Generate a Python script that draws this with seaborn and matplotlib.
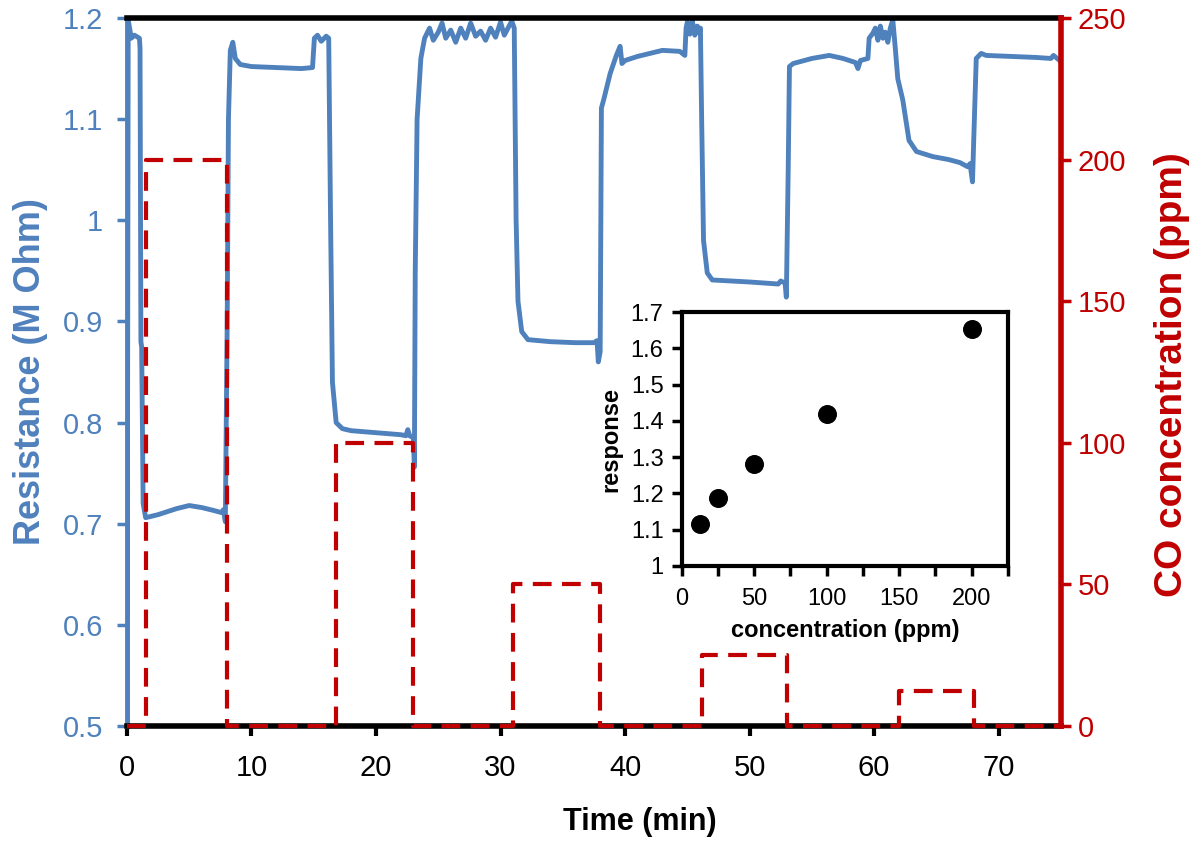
import matplotlib
matplotlib.use("Agg")
import matplotlib.pyplot as plt
import seaborn as sns
from matplotlib.ticker import MultipleLocator, FuncFormatter

# sensor resistance trace (time in min, resistance in M Ohm)
time_min = [0.0, 0.1, 0.35, 0.6, 1.0, 1.05, 1.12, 1.18, 1.3, 1.5,
            2.5, 4.0, 5.0, 6.0, 7.0, 7.6, 7.75, 7.9,
            8.05, 8.15, 8.3, 8.5, 8.7, 9.1, 10.0, 12.0, 14.0, 14.9,
            15.05, 15.3, 15.6, 16.0, 16.2,
            16.35, 16.5, 16.8, 17.3, 18.0, 20.0, 22.0, 22.4, 22.55, 22.7, 23.0, 23.08,
            23.15, 23.3, 23.6, 23.9,
            24.3, 24.6, 25.0, 25.3, 25.6, 26.0, 26.4, 26.8, 27.2, 27.6, 28.0, 28.4,
            28.8, 29.2, 29.6, 30.0, 30.3, 30.6, 30.9, 31.1,
            31.25, 31.4, 31.7, 32.2, 34.0, 36.0, 37.5, 37.75, 37.85,
            38.0, 38.1, 38.3, 38.8, 39.3, 39.6, 39.75, 40.0, 41.0, 42.0, 43.0, 44.4, 44.8,
            44.9, 45.0, 45.2, 45.4, 45.6, 45.8, 45.95, 46.05,
            46.15, 46.3, 46.6, 47.0, 50.0, 52.3, 52.5, 52.85, 52.95,
            53.1, 53.2, 53.5, 55.0, 56.4, 57.5, 58.5, 58.7, 58.9, 59.5,
            59.6, 59.9, 60.1, 60.3, 60.5, 60.7, 60.9, 61.1, 61.3, 61.5,
            61.7, 61.9, 62.3, 62.8, 63.4, 64.7, 66.0, 66.9, 67.5, 67.7, 67.9,
            68.0, 68.2, 68.6, 69.0, 71.0, 73.0, 74.2, 74.4, 75.0]
resistance = [0.45, 1.198, 1.18, 1.183, 1.18, 1.17, 0.88, 0.875, 0.72, 0.706,
              0.709, 0.715, 0.718, 0.716, 0.713, 0.711, 0.714, 0.702,
              0.9, 1.1, 1.168, 1.176, 1.16, 1.154, 1.152, 1.151, 1.150, 1.151,
              1.18, 1.183, 1.177, 1.182, 1.18,
              1.0, 0.84, 0.80, 0.794, 0.792, 0.790, 0.788, 0.787, 0.793, 0.787, 0.785, 0.756,
              0.95, 1.1, 1.16, 1.18,
              1.19, 1.178, 1.186, 1.195, 1.18, 1.188, 1.176, 1.19, 1.18, 1.195, 1.182, 1.187,
              1.178, 1.19, 1.181, 1.196, 1.183, 1.19, 1.197, 1.19,
              1.0, 0.92, 0.89, 0.882, 0.880, 0.879, 0.879, 0.881, 0.86,
              0.87, 1.111, 1.12, 1.145, 1.163, 1.172, 1.155, 1.158, 1.162, 1.165, 1.168, 1.167, 1.163,
              1.19, 1.196, 1.184, 1.197, 1.183, 1.192, 1.185, 1.19,
              1.1, 0.98, 0.948, 0.941, 0.939, 0.937, 0.940, 0.938, 0.924,
              1.05, 1.152, 1.155, 1.16, 1.163, 1.16, 1.156, 1.15, 1.158, 1.16,
              1.18, 1.185, 1.19, 1.178, 1.192, 1.18, 1.186, 1.176, 1.19, 1.198,
              1.17, 1.14, 1.119, 1.079, 1.068, 1.063, 1.06, 1.057, 1.053, 1.056, 1.038,
              1.08, 1.16, 1.165, 1.163, 1.162, 1.161, 1.16, 1.163, 1.157]

# CO pulses
co_on = [1.5, 16.8, 31.0, 46.2, 62.0]
co_off = [8.0, 23.0, 38.0, 53.0, 68.0]
co_ppm = [200, 100, 50, 25, 12.5]

# inset: response vs concentration
inset_conc = [12.5, 25, 50, 100, 200]
inset_resp = [1.115, 1.187, 1.281, 1.42, 1.652]

blue = "#4F81BD"
red = "#C00000"

sns.set_theme(style="ticks")
plt.rcParams['font.family'] = ['Liberation Sans', 'DejaVu Sans']
plt.rcParams['text.color'] = 'black'
plt.rcParams['axes.labelcolor'] = 'black'
plt.rcParams['xtick.color'] = 'black'
plt.rcParams['ytick.color'] = 'black'

fig = plt.figure(figsize=(12, 8.41), dpi=100)
ax1 = fig.add_axes([0.1058, 0.1367, 0.7783, 0.8419])
ax2 = ax1.twinx()

# resistance curve
sns.lineplot(x=time_min, y=resistance, ax=ax1, color=blue, linewidth=3.5,
             estimator=None, sort=False)
ax1.set_xlim(0, 75)
ax1.set_ylim(0.5, 1.2)
ax1.xaxis.set_major_locator(MultipleLocator(10))
ax1.yaxis.set_major_locator(MultipleLocator(0.1))
ax1.yaxis.set_major_formatter(FuncFormatter(lambda v, p: f"{v:g}"))
ax1.tick_params(axis='x', colors='black', length=7, width=3, labelsize=21, pad=13)
ax1.tick_params(axis='y', colors=blue, length=7, width=2.5, labelsize=21, pad=10)
ax1.set_xlabel("")
ax1.set_ylabel("")

# CO concentration steps
co_t = [0.0]
co_c = [0.0]
for on, off, lvl in zip(co_on, co_off, co_ppm):
    co_t += [on, on, off, off]
    co_c += [0, lvl, lvl, 0]
co_t.append(75.0)
co_c.append(0.0)
sns.lineplot(x=co_t, y=co_c, ax=ax2, color=red, linewidth=3,
             linestyle=(0, (4.5, 2.5)), estimator=None, sort=False,
             clip_on=False, zorder=5)
ax2.set_ylim(0, 250)
ax2.yaxis.set_major_locator(MultipleLocator(50))
ax2.tick_params(axis='y', colors=red, length=7, width=2.5, labelsize=21, pad=5)
ax2.set_ylabel("")

for s in ['top', 'bottom']:
    ax1.spines[s].set_color('black')
    ax1.spines[s].set_linewidth(4)
ax1.spines['left'].set_color(blue)
ax1.spines['left'].set_linewidth(3.5)
ax1.spines['right'].set_visible(False)
for s in ['top', 'bottom', 'left']:
    ax2.spines[s].set_visible(False)
ax2.spines['right'].set_color(red)
ax2.spines['right'].set_linewidth(4)

label_font = ['Liberation Sans', 'DejaVu Sans']
fig.text(640 / 1200, 1 - 822 / 841, "Time (min)", ha='center', va='center',
         fontsize=22, fontweight='bold', color='black', family=label_font)
fig.text(31 / 1200, 1 - 372 / 841, "Resistance (M Ohm)", ha='center', va='center',
         rotation=90, fontsize=26, fontweight='bold', color=blue, family=label_font)
fig.text(1172 / 1200, 1 - 375 / 841, "CO concentration (ppm)", ha='center', va='center',
         rotation=90, fontsize=28, fontweight='bold', color=red, family=label_font)

# inset
ins = fig.add_axes([0.568, 0.327, 0.272, 0.302])
ins.set_facecolor('white')
sns.scatterplot(x=inset_conc, y=inset_resp, ax=ins, color='black', s=160,
                edgecolor='black', zorder=3)
ins.set_xlim(0, 225)
ins.set_ylim(1, 1.7)
ins.xaxis.set_major_locator(MultipleLocator(50))
ins.xaxis.set_minor_locator(MultipleLocator(25))
ins.yaxis.set_major_locator(MultipleLocator(0.1))
ins.yaxis.set_major_formatter(FuncFormatter(lambda v, p: f"{v:g}"))
ins.tick_params(which='both', length=7, width=2.5, color='black', labelcolor='black',
                labelsize=17, pad=6)
ins.tick_params(axis='x', which='both', pad=9)
for s in ins.spines.values():
    s.set_color('black')
    s.set_linewidth(3)
ins.set_xlabel("concentration (ppm)", fontsize=17, fontweight='bold', labelpad=6)
ins.set_ylabel("response", fontsize=17, fontweight='bold', labelpad=6)

fig.savefig("out.png", dpi=100)
